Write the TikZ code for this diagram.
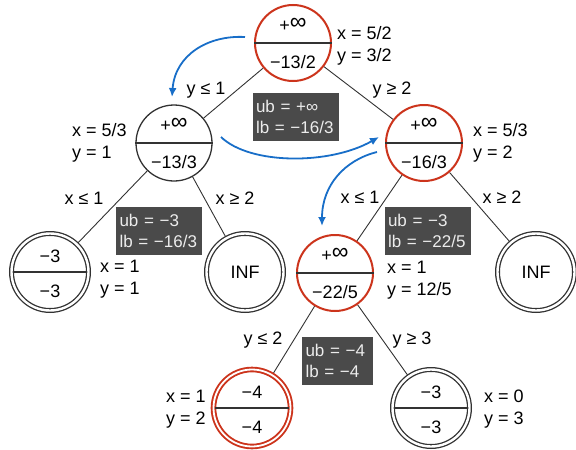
\documentclass[tikz,border=0pt]{standalone}
\usepackage{fontspec}
\setmainfont{Liberation Sans}
\usetikzlibrary{arrows.meta,backgrounds,calc}
\definecolor{nred}{RGB}{204,52,28}
\definecolor{nblue}{RGB}{24,110,200}
\definecolor{nline}{RGB}{50,50,50}
\definecolor{boxfill}{RGB}{74,74,74}
\definecolor{boxtext}{RGB}{236,236,236}
\newcommand{\biginf}{\raisebox{1.5pt}{\scalebox{1.3}{∞}}}
\begin{document}
\begin{tikzpicture}[x=1pt,y=-1pt,
  font=\fontsize{18}{22}\selectfont,
  nd/.style={circle, draw=nline, line width=1.3pt, fill=white, minimum size=76pt, inner sep=0pt},
  rednd/.style={nd, draw=nred, line width=2pt},
  dbl/.style={circle, draw=nline, line width=1.3pt, double=white, double distance=2.4pt, fill=white, minimum size=77pt, inner sep=0pt},
  reddbl/.style={dbl, draw=nred, line width=1.9pt, double distance=1.8pt},
  divider/.style={draw=nline, line width=1.3pt},
  val/.style={inner sep=0pt},
  info/.style={align=left, inner sep=0pt, anchor=west},
  edge/.style={draw=nline, line width=0.9pt},
  elab/.style={inner sep=0pt},
  ubox/.style={fill=boxfill, text=boxtext, align=left, inner xsep=3.5pt, inner ysep=0pt, minimum height=48pt, font=\fontsize{17}{21}\selectfont},
  flow/.style={draw=nblue, line width=1.8pt, -{Latex[length=9pt,width=8pt]}},
]
\useasboundingbox (0,0) rectangle (576,450);

% tree nodes
\node[rednd] (r) at (293,43) {};
\node[nd] (a) at (174,143) {};
\node[rednd] (b) at (424,143) {};
\node[dbl] (c) at (50,272) {};
\node[dbl] (inf1) at (245,272) {INF};
\node[rednd] (d) at (335,273) {};
\node[dbl] (inf2) at (536,272) {INF};
\node[reddbl] (e) at (252,408) {};
\node[dbl] (f) at (431,408) {};

% dividers
\draw[divider] (r.west) -- (r.east);
\draw[divider] (a.west) -- (a.east);
\draw[divider] (b.west) -- (b.east);
\draw[divider] (d.west) -- (d.east);
\draw[divider] ($(c.west)+(2.5,0)$) -- ($(c.east)+(-2.5,0)$);
\draw[divider] ($(e.west)+(2.5,0)$) -- ($(e.east)+(-2.5,0)$);
\draw[divider] ($(f.west)+(2.5,0)$) -- ($(f.east)+(-2.5,0)$);

% values
\node[val] (rt) at ($(r)+(0,-18)$) {+\biginf};
\node[val] (rb) at ($(r)+(0,19)$) {−13/2};
\node[val] (at) at ($(a)+(0,-18)$) {+\biginf};
\node[val] (ab) at ($(a)+(0,19)$) {−13/3};
\node[val] (bt) at ($(b)+(0,-18)$) {+\biginf};
\node[val] (bb) at ($(b)+(0,19)$) {−16/3};
\node[val] (ct) at ($(c)+(0,-16)$) {−3};
\node[val] (cb) at ($(c)+(0,19)$) {−3};
\node[val] (dt) at ($(d)+(0,-18)$) {+\biginf};
\node[val] (db) at ($(d)+(0,19)$) {−22/5};
\node[val] (et) at ($(e)+(0,-16)$) {−4};
\node[val] (eb) at ($(e)+(0,19)$) {−4};
\node[val] (ft) at ($(f)+(0,-16)$) {−3};
\node[val] (fb) at ($(f)+(0,19)$) {−3};

% edges
\begin{pgfonlayer}{background}
\draw[edge] (r) -- (a);
\draw[edge] (r) -- (b);
\draw[edge] (a) -- (c);
\draw[edge] (a) -- (inf1);
\draw[edge] (b) -- (d);
\draw[edge] (b) -- (inf2);
\draw[edge] (d) -- (e);
\draw[edge] (d) -- (f);
\end{pgfonlayer}

% edge labels
\node[elab] (l1) at (206,90) {y ≤ 1};
\node[elab] (l2) at (392,90) {y ≥ 2};
\node[elab] (l3) at (84,198) {x ≤ 1};
\node[elab] (l4) at (235,198) {x ≥ 2};
\node[elab] (l5) at (360,197) {x ≤ 1};
\node[elab] (l6) at (502,197) {x ≥ 2};
\node[elab] (l7) at (263,340) {y ≤ 2};
\node[elab] (l8) at (412,340) {y ≥ 3};

% solution info
\node[info] (ir) at (337,46) {x = 5/2\\y = 3/2};
\node[info] (ia) at (72,143) {x = 5/3\\y = 1};
\node[info] (ib) at (473,143) {x = 5/3\\y = 2};
\node[info] (ic) at (100,279) {x = 1\\y = 1};
\node[info] (id) at (387,280) {x = 1\\y = 12/5};
\node[info] (ie) at (166,409) {x = 1\\y = 2};
\node[info] (if) at (484,409) {x = 0\\y = 3};

% bound boxes
\node[ubox, text width=79pt] (u1) at (295.5,117) {ub = +∞\\lb = −16/3};
\node[ubox, text width=79pt] (u2) at (159,230.5) {ub = −3\\lb = −16/3};
\node[ubox, text width=79pt] (u3) at (427.5,230.5) {ub = −3\\lb = −22/5};
\node[ubox, text width=64pt] (u4) at (337.5,360.5) {ub = −4\\lb = −4};

% search order arrows
\coordinate (s1) at (245,37);
\coordinate (t1) at (172,97);
\coordinate (s2) at (221,137);
\coordinate (t2) at (379,137);
\coordinate (s3) at (377,152);
\coordinate (t3) at (322,226);
\draw[flow] (s1) .. controls (208,35) and (175,55) .. (t1);
\draw[flow] (s2) .. controls (250,165) and (330,165) .. (t2);
\draw[flow] (s3) .. controls (345,160) and (322,185) .. (t3);
\end{tikzpicture}
\end{document}
